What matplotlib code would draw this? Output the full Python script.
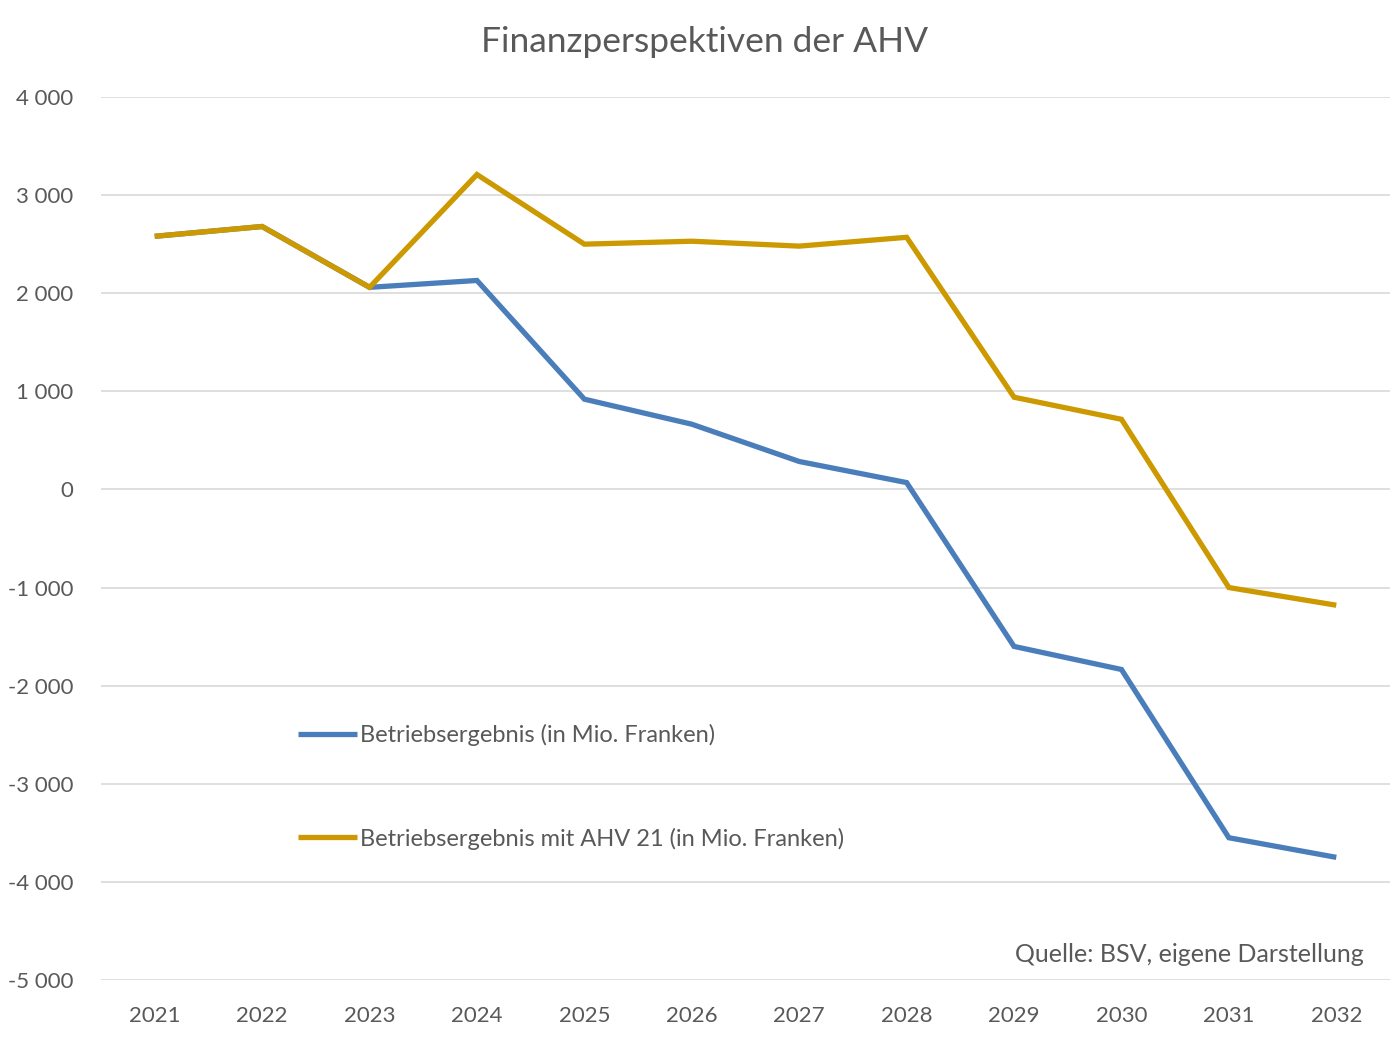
import matplotlib
matplotlib.use("Agg")
import matplotlib.pyplot as plt
from matplotlib.ticker import FuncFormatter

years = ["2021", "2022", "2023", "2024", "2025", "2026", "2027", "2028", "2029", "2030", "2031", "2032"]
betrieb = [2580, 2680, 2060, 2130, 920, 665, 285, 70, -1600, -1835, -3550, -3750]
betrieb_ahv21 = [2580, 2680, 2060, 3210, 2500, 2530, 2480, 2570, 940, 715, -1000, -1180]
labels = ["Betriebsergebnis (in Mio. Franken)", "Betriebsergebnis mit AHV 21 (in Mio. Franken)"]
title = "Finanzperspektiven der AHV"
source = "Quelle: BSV, eigene Darstellung"

plt.rcParams['font.family'] = ['Lato', 'DejaVu Sans']
txt = '#595959'

fig = plt.figure(figsize=(14, 10.62), dpi=100)
ax = fig.add_axes([101/1400, (1062-980)/1062, 1289/1400, (980-97)/1062])

x = list(range(len(years)))
l1, = ax.plot(x, betrieb, color='#4A7EBB', lw=3.8, solid_joinstyle='miter', solid_capstyle='butt', zorder=3)
l2, = ax.plot(x, betrieb_ahv21, color='#CC9900', lw=3.8, solid_joinstyle='miter', solid_capstyle='butt', zorder=4)

ax.set_xlim(-0.5, len(years) - 0.5)
ax.set_ylim(-5000, 4000)
ax.set_yticks(range(-5000, 4001, 1000))
ax.yaxis.set_major_formatter(FuncFormatter(lambda v, p: f"{int(v):,}".replace(",", " ")))
ax.set_xticks(x)
ax.set_xticklabels(years)
ax.grid(axis='y', color='#D9D9D9', lw=1.2)
ax.set_axisbelow(True)
for s in ax.spines.values():
    s.set_visible(False)
ax.tick_params(axis='both', length=0, labelsize=16, colors=txt)
ax.tick_params(axis='y', pad=20)
ax.tick_params(axis='x', pad=19)

fig.text(705/1400, 1 - 42/1062, title, ha='center', va='center', fontsize=25.5, color=txt)

leg = ax.legend([l1, l2], labels, loc='upper left', bbox_to_anchor=(197/1289, (980-724)/883),
                frameon=False, fontsize=17, handlelength=2.5, handletextpad=0.12,
                labelspacing=3.45, labelcolor=txt, borderpad=0, borderaxespad=0)

ax.text(1364/1400, 1 - 954/1062, source, transform=fig.transFigure, ha='right', va='center',
        fontsize=18, color=txt)

fig.savefig('out.png', dpi=100)
